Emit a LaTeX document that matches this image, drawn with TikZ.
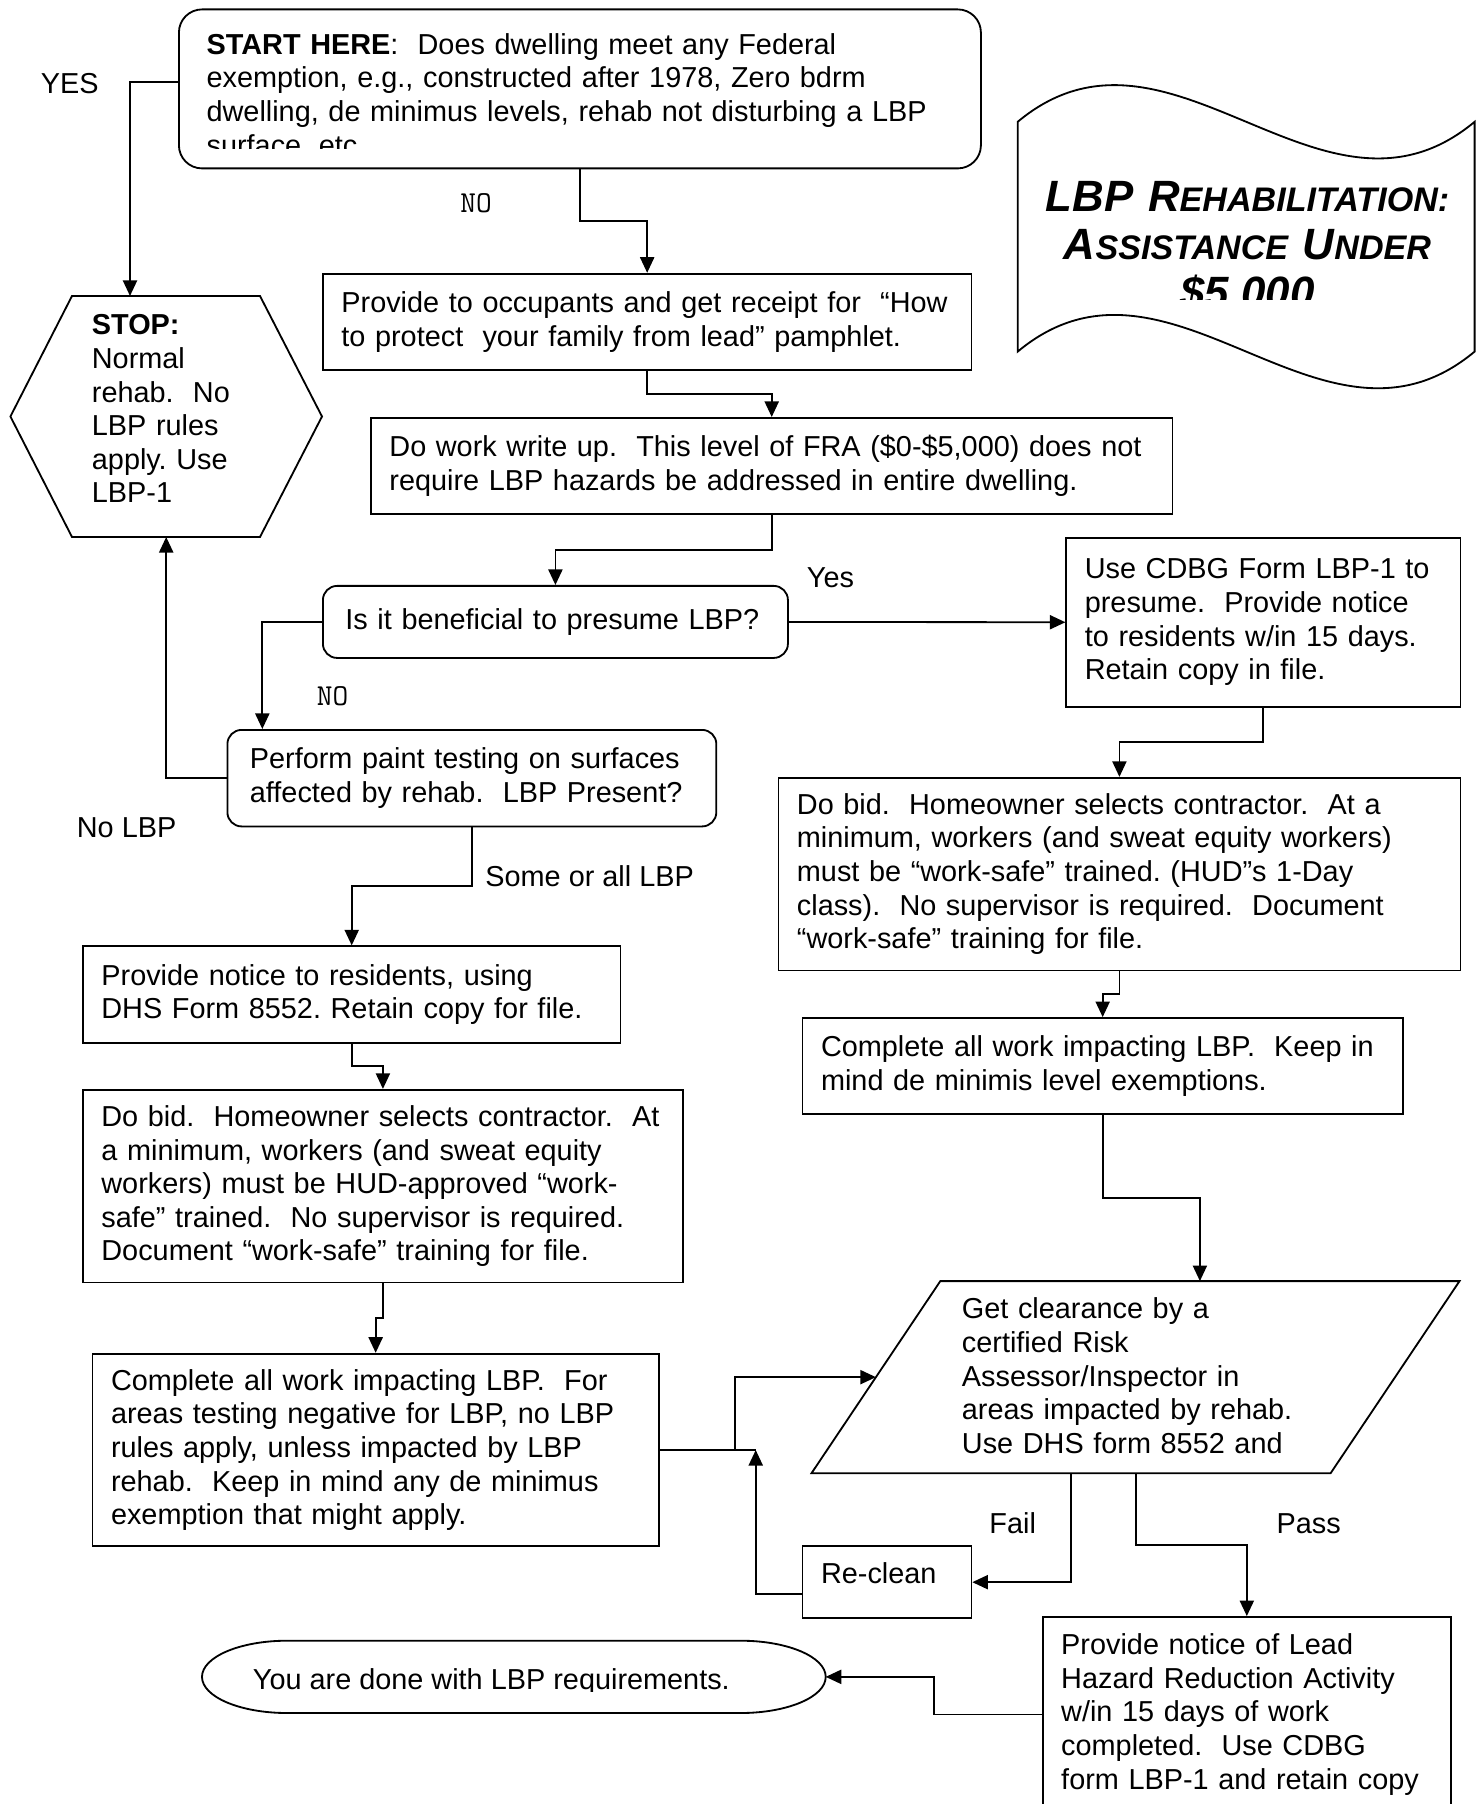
\documentclass[tikz,border=0pt]{standalone}
\usepackage{fontspec}
\setmainfont{Liberation Sans}
\usetikzlibrary{arrows.meta,calc}
\newcommand\bodyfont{\fontsize{11.85}{13.8}\selectfont\frenchspacing\hyphenpenalty=10000 }
\newcommand\smc[1]{{\fontsize{14}{19.8}\selectfont #1}}
\def\pxv{0.4107}% one pixel of the page, in pt
\tikzset{
  pxbox/.code n args={3}{%
    \pgfmathsetlengthmacro\bxw{#1*\pxv}%
    \pgfmathsetlengthmacro\bxh{#2*\pxv}%
    \pgfmathsetlengthmacro\bxt{(#1-2*#3)*\pxv}%
    \pgfmathsetlengthmacro\bxp{#3*\pxv}%
    \tikzset{minimum width/.expanded=\bxw, minimum height/.expanded=\bxh,
      text width/.expanded=\bxt, inner xsep/.expanded=\bxp}},
  rbox/.style 2 args={draw, anchor=north west, align=left,
    inner ysep=0pt, pxbox={#1}{#2}{18.5}},
  rrbox/.style 2 args={draw, anchor=north west, align=left,
    inner ysep=0pt, rounded corners=5.8pt, pxbox={#1}{#2}{22.5}},
  lbl/.style={inner sep=0pt, anchor=base west},
  nolbl/.style={lbl, font=\ttfamily\fontsize{12.5}{13.8}\selectfont},
  arr/.style={-{Triangle[length=6.4pt,width=5.8pt]}},
  elbow/.style={to path={(\tikztostart) |- ($(\tikztostart)!.5!(\tikztotarget)$) -| (\tikztotarget)}},
}
\begin{document}
\begin{tikzpicture}[x=0.4107pt, y=-0.4107pt, line width=.75pt, font=\bodyfont]
\useasboundingbox (0,0) rectangle (1476,1804);
% start box, its last line is cut off
\node[rbox={802}{159}, rounded corners=9.5pt] (start) at (178,8.5) {};
\begin{scope}
  \clip (178,8.5) rectangle (980,148.7);
  \node[lbl, text width=310pt, align=left] (starttxt) at (205.7,54.3)
    {\textbf{START HERE}:~~Does dwelling meet any Federal\\ exemption, e.g., constructed after 1978, Zero bdrm\\ dwelling, de minimus levels, rehab not disturbing a LBP\\ surface, etc};
\end{scope}
% title banner
\draw (1017.7,121.8) .. controls (1170,-5.2) and (1322.3,248.8) .. (1474.6,121.8)
  -- (1474.6,351.6) .. controls (1322.3,478.6) and (1170,224.6) .. (1017.7,351.6) -- cycle;
\begin{scope}
  \clip (1017.7,100) rectangle (1474.6,299.7);
  \node[inner sep=0pt, anchor=base, text width=180pt, align=center,
    font=\bfseries\itshape\fontsize{18}{19.8}\selectfont] (title) at (1247.5,211.4)
    {LBP R\smc{EHABILITATION:}\\ A\smc{SSISTANCE} U\smc{NDER}\\ \$5,000};
\end{scope}
% stop hexagon
\draw (72,296) -- (260,296) -- (322,416.5) -- (260,537) -- (72,537) -- (10.4,416.5) -- cycle;
\coordinate (stopT) at (130,296);
\coordinate (stopB) at (166.2,537);
\node[lbl, text width=70pt, align=left] (stop) at (91,335)
  {\textbf{STOP:}\\ Normal\\ rehab.~~No\\ LBP rules\\ apply. Use\\ LBP-1};
% boxes
\node[rbox={648.5}{96.2}] (occ) at (322,272.8)
  {Provide to occupants and get receipt for~~“How\\ to protect~~your family from lead” pamphlet.};
\node[rbox={801.6}{96}] (wup) at (370,417)
  {Do work write up.~~This level of FRA (\$0-\$5,000) does not\\ require LBP hazards be addressed in entire dwelling.};
\node[rrbox={465}{72}] (pres) at (322,585) {Is it beneficial to presume LBP?};
\node[rbox={394.1}{168.7}] (cdbg) at (1065.4,537)
  {Use CDBG Form LBP-1 to\\ presume.~~Provide notice\\ to residents w/in 15 days.\\ Retain copy in file.};
\node[rrbox={488.9}{96.5}] (test) at (226.5,729)
  {Perform paint testing on surfaces\\ affected by rehab.~~LBP Present?};
\node[rbox={537.6}{96.3}] (notice) at (82,945.4)
  {Provide notice to residents, using\\ DHS Form 8552. Retain copy for file.};
\node[rbox={600}{192.7}] (bidA) at (82,1088.9)
  {Do bid.~~Homeowner selects contractor.~~At\\ a minimum, workers (and sweat equity\\ workers) must be HUD-approved “work-\\ safe” trained.~~No supervisor is required.\\ Document “work-safe” training for file.};
\node[rbox={566.3}{192.6}] (workA) at (91.6,1352.8)
  {Complete all work impacting LBP.~~For\\ areas testing negative for LBP, no LBP\\ rules apply, unless impacted by LBP\\ rehab.~~Keep in mind any de minimus\\ exemption that might apply.};
\node[rbox={682}{192.6}] (bidB) at (777.5,776.9)
  {Do bid.~~Homeowner selects contractor.~~At a\\ minimum, workers (and sweat equity workers)\\ must be “work-safe” trained. (HUD”s 1-Day\\ class).~~No supervisor is required.~~Document\\ “work-safe” training for file.};
\node[rbox={600.3}{96.3}] (workB) at (801.6,1017.1)
  {Complete all work impacting LBP.~~Keep in\\ mind de minimis level exemptions.};
\node[rbox={168.9}{71.7}, text depth=7.2pt] (reclean) at (801.6,1545.4) {Re-clean};
\node[rbox={408.2}{195}] (lead) at (1041.8,1616.1)
  {Provide notice of Lead\\ Hazard Reduction Activity\\ w/in 15 days of work\\ completed.~~Use CDBG\\ form LBP-1 and retain copy};
% clearance parallelogram
\coordinate (clrTL) at (940.3,1281.1);
\coordinate (clrTR) at (1459.5,1281.1);
\coordinate (clrBR) at (1330.6,1473.2);
\coordinate (clrBL) at (811.5,1473.2);
\draw (clrTL) -- (clrTR) -- (clrBR) -- (clrBL) -- cycle;
\coordinate (clrtop) at ($(clrTL)!.5!(clrTR)$);
\coordinate (clrin) at ($(clrTL)!.5!(clrBL)$);
\coordinate (clrfail) at ($(clrBL)!.5!(clrBR)$);
\coordinate (clrpass) at ($(clrBL)!.625!(clrBR)$);
\node[lbl, text width=150pt, align=left] (clr) at (961,1318.8)
  {Get clearance by a\\ certified Risk\\ Assessor/Inspector in\\ areas impacted by rehab.\\ Use DHS form 8552 and};
% end terminator
\draw (287,1640.7) -- (740.7,1640.7)
  arc[start angle=-90, end angle=90, x radius=85, y radius=36.15] -- (287,1713)
  arc[start angle=90, end angle=270, x radius=85, y radius=36.15] -- cycle;
\coordinate (doneR) at (825.7,1676.85);
\begin{scope}
  \clip (202,1630) rectangle (826,1691.7);
  \node[lbl] (done) at (252,1689.3) {You are done with LBP requirements.};
\end{scope}
% labels
\node[lbl] (lyes) at (40,94) {YES};
\node[nolbl] (lno) at (459.5,212.4) {NO};
\node[lbl] (lyes2) at (806,587.5) {Yes};
\node[nolbl] (lno2) at (316,705.5) {NO};
\node[lbl] (lnolbp) at (76,837.8) {No LBP};
\node[lbl] (lsome) at (484.5,886) {Some or all LBP};
\node[lbl] (lfail) at (988.5,1533.6) {Fail};
\node[lbl] (lpass) at (1275.6,1533.6) {Pass};
% connectors
\draw[arr] ($(start.north west)!.457!(start.south west)$) -| (stopT);
\draw[arr] (start.south) to[elbow] (occ.north);
\draw[arr] (occ.south) to[elbow] (wup.north);
\draw[arr] (wup.south) to[elbow] (pres.north);
\draw[arr] (pres.east) -- (cdbg.west);
\draw[arr] (pres.west) -| ($(test.north west)!.073!(test.north east)$);
\draw[arr] (test.west) -| (stopB);
\draw[arr] (test.south) to[elbow] (notice.north);
\draw[arr] (notice.south) to[elbow] (bidA.north);
\draw[arr] (bidA.south) to[elbow] (workA.north);
\coordinate (rejoin) at ($(workA.east)+(96,0)$);
\draw (workA.east) -- (rejoin);
\draw[arr] (workA.east) -| ($(workA.east)!.348!(clrin)$) |- (clrin);
\draw[arr] ($(reclean.north west)!.657!(reclean.south west)$) -| (rejoin);
\draw[arr] (cdbg.south) to[elbow] (bidB.north);
\draw[arr] (bidB.south) to[elbow] (workB.north);
\draw[arr] (workB.south) to[elbow] (clrtop);
\draw[arr] (clrfail) |- (reclean.east);
\draw[arr] (clrpass) to[elbow] (lead.north);
\draw[arr] (lead.west) -| ($(lead.west)!.5!(doneR)$) |- (doneR);
\end{tikzpicture}
\end{document}
